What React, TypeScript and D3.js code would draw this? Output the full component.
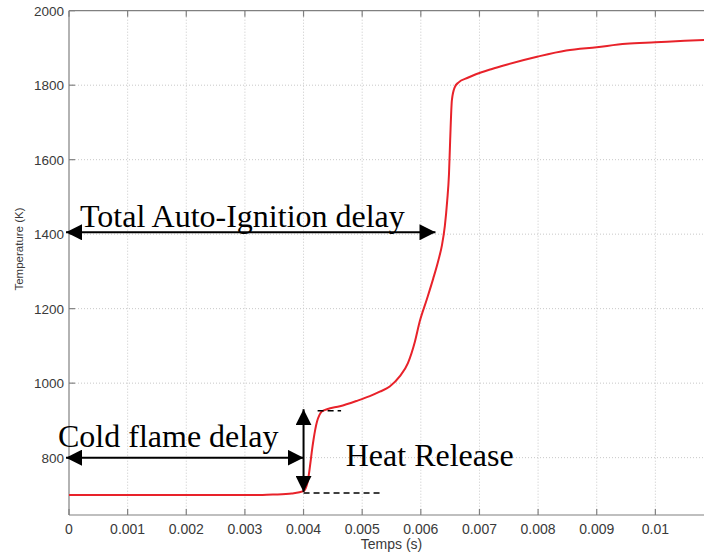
import React from "react";
import * as d3 from "d3";

// temperature trace (time in s, temperature in K)
const times = [
  0, 0.001, 0.002, 0.003, 0.0033, 0.0035, 0.0038, 0.004, 0.00407, 0.00411, 0.00414, 0.00417,
  0.0042, 0.00423, 0.00427, 0.00431, 0.0044, 0.00462, 0.0049, 0.00513, 0.0053, 0.00547,
  0.00564, 0.00578, 0.0059, 0.00598, 0.0061, 0.00621, 0.0063, 0.00636, 0.00641, 0.00645,
  0.00648, 0.0065, 0.00653, 0.00658, 0.00664, 0.0068, 0.00695, 0.0072, 0.00746, 0.008,
  0.00848, 0.009, 0.0095, 0.01, 0.0105, 0.011,
];
const temps = [
  700, 700, 700, 700, 700, 701, 704, 710, 735, 777, 815, 848,
  876, 897, 914, 924, 930, 938, 952, 965, 977, 991,
  1018, 1054, 1112, 1165, 1224, 1280, 1330, 1370, 1422, 1490,
  1560, 1650, 1760, 1795, 1807, 1820, 1830, 1843, 1855, 1877,
  1893, 1902, 1911, 1915, 1919, 1922,
];

const xTicks = [0, 0.001, 0.002, 0.003, 0.004, 0.005, 0.006, 0.007, 0.008, 0.009, 0.01];
const xTickLabels = ["0", "0.001", "0.002", "0.003", "0.004", "0.005", "0.006", "0.007", "0.008", "0.009", "0.01"];
const yTicks = [800, 1000, 1200, 1400, 1600, 1800, 2000];

// annotation arrows (data units)
const hArrows = [
  { label: "Total Auto-Ignition delay", x0: 0, x1: 0.00625, t: 1405 },
  { label: "Cold flame delay", x0: 0, x1: 0.004, t: 800 },
];
const heatArrow = { x: 0.004, t0: 708, t1: 930 };
const heatDashes = [
  { x0: 0.00424, x1: 0.00464, t: 926 },
  { x0: 0.004, x1: 0.00536, t: 705 },
];
const heatLabel = { label: "Heat Release", x: 0.00472, t: 778 };

const W = 704;
const H = 556;
const left = 69;
const top = 10.7;
const bottom = 515;
const right = 714;

export default function App() {
  const x = d3.scaleLinear().domain([0, 0.011]).range([left, right]);
  const y = d3.scaleLinear().domain([646, 2000]).range([bottom, top]);

  const line = d3
    .line<number>()
    .x((d, i) => x(times[i]))
    .y((d) => y(d))
    .curve(d3.curveMonotoneX);

  const serif = "'Times New Roman', 'Liberation Serif', serif";
  const sans = "Arial, 'Liberation Sans', Helvetica, sans-serif";
  const axisColor = "#808080";

  return (
    <svg width={W} height={H} style={{ position: "absolute", left: 0, top: 0, background: "#fff" }}>
      <defs>
        <marker
          id="head"
          viewBox="0 0 16 16"
          refX="16"
          refY="8"
          markerWidth="16"
          markerHeight="16"
          markerUnits="userSpaceOnUse"
          orient="auto-start-reverse"
        >
          <path d="M0,0 L16,8 L0,16 Z" fill="#000" />
        </marker>
      </defs>

      {/* grid */}
      <g stroke="#c8c8c8" strokeWidth={1} strokeDasharray="1,2">
        {xTicks.slice(1).map((t) => (
          <line key={"gx" + t} x1={x(t)} x2={x(t)} y1={top} y2={bottom} />
        ))}
        {yTicks.slice(0, -1).map((t) => (
          <line key={"gy" + t} x1={left} x2={right} y1={y(t)} y2={y(t)} />
        ))}
      </g>

      {/* axes box */}
      <g stroke={axisColor} strokeWidth={1.2} fill="none">
        <line x1={left} x2={right} y1={top} y2={top} />
        <line x1={left} x2={right} y1={bottom} y2={bottom} />
        <line x1={left} x2={left} y1={top} y2={bottom} />
        {xTicks.map((t) => (
          <g key={"tx" + t}>
            <line x1={x(t)} x2={x(t)} y1={bottom} y2={bottom - 6} />
            <line x1={x(t)} x2={x(t)} y1={top} y2={top + 6} />
          </g>
        ))}
        {yTicks.map((t) => (
          <line key={"ty" + t} x1={left} x2={left + 6} y1={y(t)} y2={y(t)} />
        ))}
      </g>

      {/* tick labels */}
      <g fontFamily={sans} fill="#3a3a3a">
        {xTicks.map((t, i) => (
          <text key={"lx" + t} x={x(t)} y={534} fontSize={14} textAnchor="middle">
            {xTickLabels[i]}
          </text>
        ))}
        {yTicks.map((t) => (
          <text key={"ly" + t} x={left - 5} y={y(t) + 5} fontSize={13.5} textAnchor="end">
            {t}
          </text>
        ))}
        <text x={(left + right) / 2} y={549} fontSize={14} textAnchor="middle">
          Temps (s)
        </text>
        <text transform="translate(23,249) rotate(-90)" fontSize={11.5} textAnchor="middle">
          Temperature (K)
        </text>
      </g>

      {/* temperature curve */}
      <path d={line(temps) || ""} fill="none" stroke="#e8222a" strokeWidth={2} />

      {/* annotations */}
      <g stroke="#000" strokeWidth={2}>
        {hArrows.map((a) => (
          <line
            key={a.label}
            x1={x(a.x0) - 3}
            x2={x(a.x1)}
            y1={y(a.t)}
            y2={y(a.t)}
            markerStart="url(#head)"
            markerEnd="url(#head)"
          />
        ))}
        <line
          x1={x(heatArrow.x)}
          x2={x(heatArrow.x)}
          y1={y(heatArrow.t0)}
          y2={y(heatArrow.t1)}
          markerStart="url(#head)"
          markerEnd="url(#head)"
        />
        {heatDashes.map((d, i) => (
          <line key={"d" + i} x1={x(d.x0)} x2={x(d.x1)} y1={y(d.t)} y2={y(d.t)} strokeWidth={1.5} strokeDasharray="6,4" />
        ))}
      </g>
      <g fontFamily={serif} fontSize={32} fill="#000">
        <text x={x(hArrows[0].x0) + 11} y={y(hArrows[0].t) - 5}>
          {hArrows[0].label}
        </text>
        <text x={x(hArrows[1].x0) - 11} y={y(hArrows[1].t) - 11}>
          {hArrows[1].label}
        </text>
        <text x={x(heatLabel.x)} y={y(heatLabel.t)}>
          {heatLabel.label}
        </text>
      </g>
    </svg>
  );
}
